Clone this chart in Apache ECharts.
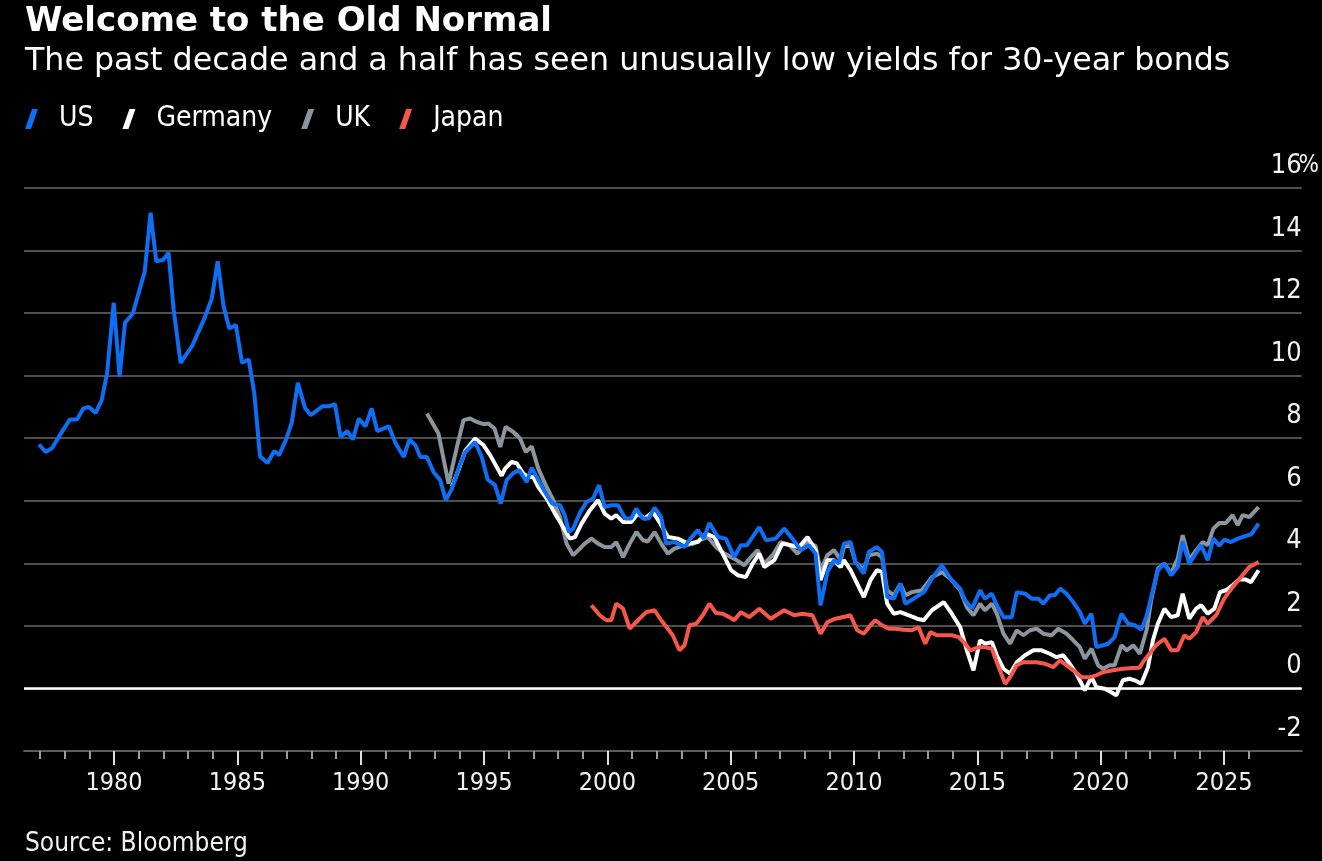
<!DOCTYPE html>
<html>
<head>
<meta charset="utf-8">
<title>Welcome to the Old Normal</title>
<script src="https://cdn.jsdelivr.net/npm/echarts@6/dist/echarts.min.js"></script>
<style>
  html, body { margin: 0; padding: 0; background: #000; }
  #chart { width: 1322px; height: 861px; }
</style>
</head>
<body>
<div id="chart"></div>
<script>
// 30-year government bond yields, %
const us = [
  [1976.96, 7.80], [1977.24, 7.56], [1977.50, 7.69], [1977.81, 8.10], [1978.22, 8.60], [1978.51, 8.60],
  [1978.76, 8.95], [1978.99, 9.00], [1979.27, 8.81], [1979.51, 9.22], [1979.73, 10.07], [1980.00, 12.33],
  [1980.24, 9.96], [1980.46, 11.69], [1980.78, 11.99], [1980.99, 12.58], [1981.26, 13.32], [1981.50, 15.21],
  [1981.73, 13.66], [1982.00, 13.70], [1982.23, 13.93], [1982.44, 12.10], [1982.72, 10.41], [1983.21, 10.98],
  [1983.69, 11.83], [1983.99, 12.47], [1984.23, 13.66], [1984.47, 12.22], [1984.70, 11.51], [1984.97, 11.62],
  [1985.22, 10.41], [1985.49, 10.52], [1985.72, 9.43], [1985.95, 7.42], [1986.26, 7.21], [1986.53, 7.59],
  [1986.73, 7.46], [1987.00, 7.94], [1987.24, 8.49], [1987.49, 9.77], [1987.78, 8.97], [1988.01, 8.74],
  [1988.49, 9.02], [1988.76, 9.02], [1989.00, 9.09], [1989.23, 8.04], [1989.50, 8.23], [1989.73, 7.96],
  [1989.97, 8.63], [1990.24, 8.38], [1990.49, 8.95], [1990.72, 8.23], [1991.19, 8.38], [1991.46, 7.85],
  [1991.80, 7.40], [1992.03, 7.96], [1992.27, 7.78], [1992.47, 7.40], [1992.74, 7.40], [1993.01, 6.92],
  [1993.28, 6.66], [1993.51, 6.02], [1993.76, 6.39], [1994.03, 7.03], [1994.30, 7.56], [1994.70, 7.88],
  [1994.97, 7.40], [1995.21, 6.68], [1995.51, 6.50], [1995.74, 5.91], [1995.98, 6.66], [1996.26, 6.89],
  [1996.49, 6.98], [1996.80, 6.60], [1997.00, 7.06], [1997.24, 6.71], [1997.54, 6.28], [1997.84, 5.91],
  [1998.15, 5.86], [1998.35, 5.54], [1998.51, 5.00], [1998.69, 5.11], [1998.96, 5.61], [1999.23, 5.96],
  [1999.50, 6.07], [1999.74, 6.50], [1999.97, 5.80], [2000.24, 5.86], [2000.51, 5.86], [2000.81, 5.43],
  [2001.05, 5.43], [2001.25, 5.75], [2001.53, 5.43], [2001.76, 5.43], [2002.00, 5.78], [2002.27, 5.48],
  [2002.47, 4.63], [2002.81, 4.68], [2003.22, 4.52], [2003.46, 4.79], [2003.76, 5.06], [2004.00, 4.79],
  [2004.23, 5.29], [2004.57, 4.84], [2004.90, 4.79], [2005.24, 4.20], [2005.51, 4.58], [2005.76, 4.58],
  [2006.26, 5.16], [2006.53, 4.74], [2006.93, 4.79], [2007.27, 5.11], [2007.61, 4.79], [2007.94, 4.42],
  [2008.28, 4.58], [2008.55, 4.31], [2008.75, 2.66], [2009.03, 3.72], [2009.30, 4.10], [2009.50, 3.99],
  [2009.70, 4.63], [2009.97, 4.68], [2010.17, 4.04], [2010.51, 3.67], [2010.71, 4.36], [2011.05, 4.52],
  [2011.25, 4.36], [2011.46, 2.92], [2011.73, 2.87], [2012.00, 3.35], [2012.20, 2.71], [2012.54, 2.87],
  [2012.95, 3.08], [2013.28, 3.51], [2013.69, 3.94], [2014.03, 3.51], [2014.43, 3.19], [2014.63, 2.82],
  [2014.91, 2.55], [2015.24, 3.14], [2015.44, 2.87], [2015.72, 3.03], [2015.92, 2.66], [2016.19, 2.28],
  [2016.53, 2.28], [2016.73, 3.08], [2017.07, 3.03], [2017.34, 2.87], [2017.61, 2.87], [2017.81, 2.71],
  [2018.08, 2.98], [2018.28, 2.98], [2018.49, 3.19], [2018.76, 3.03], [2019.03, 2.76], [2019.30, 2.44],
  [2019.50, 2.07], [2019.77, 2.39], [2019.97, 1.32], [2020.24, 1.38], [2020.45, 1.43], [2020.71, 1.64],
  [2020.99, 2.39], [2021.26, 2.07], [2021.53, 2.02], [2021.80, 1.88], [2022.00, 2.28], [2022.20, 2.92],
  [2022.47, 3.78], [2022.74, 3.99], [2023.01, 3.62], [2023.28, 3.88], [2023.48, 4.70], [2023.75, 3.99],
  [2024.03, 4.34], [2024.23, 4.58], [2024.50, 4.10], [2024.73, 4.79], [2024.97, 4.56], [2025.18, 4.76],
  [2025.45, 4.68], [2025.73, 4.79], [2026.00, 4.86], [2026.27, 4.93], [2026.57, 5.27]
];

const germany = [
  [1993.76, 6.45], [1994.03, 7.00], [1994.30, 7.60], [1994.70, 7.99], [1995.04, 7.78], [1995.31, 7.46],
  [1995.65, 6.98], [1995.78, 6.80], [1995.92, 7.03], [1996.18, 7.24], [1996.39, 7.20], [1996.66, 6.87],
  [1996.86, 6.76], [1997.07, 6.76], [1997.27, 6.44], [1997.61, 6.07], [1997.95, 5.59], [1998.28, 5.16],
  [1998.55, 4.79], [1998.76, 4.84], [1999.03, 5.27], [1999.37, 5.70], [1999.70, 6.02], [1999.97, 5.59],
  [2000.24, 5.43], [2000.44, 5.54], [2000.72, 5.32], [2001.05, 5.32], [2001.32, 5.59], [2001.60, 5.43],
  [2001.93, 5.64], [2002.20, 5.32], [2002.54, 4.84], [2002.95, 4.79], [2003.35, 4.63], [2003.76, 4.68],
  [2004.09, 4.95], [2004.43, 4.84], [2004.70, 4.42], [2005.11, 3.78], [2005.38, 3.62], [2005.71, 3.56],
  [2005.99, 3.99], [2006.26, 4.31], [2006.46, 3.88], [2006.87, 4.10], [2007.20, 4.63], [2007.54, 4.58],
  [2007.88, 4.52], [2008.22, 4.84], [2008.55, 4.42], [2008.75, 3.46], [2009.03, 4.10], [2009.30, 4.10],
  [2009.57, 3.88], [2009.70, 4.10], [2009.97, 3.78], [2010.24, 3.35], [2010.51, 2.92], [2010.78, 3.46],
  [2011.05, 3.78], [2011.25, 3.72], [2011.46, 2.71], [2011.73, 2.39], [2012.00, 2.44], [2012.34, 2.34],
  [2012.68, 2.23], [2012.95, 2.18], [2013.28, 2.50], [2013.76, 2.76], [2014.09, 2.39], [2014.43, 1.96],
  [2014.70, 1.22], [2014.97, 0.58], [2015.24, 1.54], [2015.44, 1.43], [2015.72, 1.48], [2015.92, 1.06],
  [2016.19, 0.63], [2016.46, 0.47], [2016.73, 0.84], [2017.07, 1.06], [2017.41, 1.22], [2017.74, 1.22],
  [2018.08, 1.11], [2018.35, 1.00], [2018.62, 1.06], [2018.89, 0.79], [2019.16, 0.47], [2019.50, -0.06],
  [2019.77, 0.36], [2019.97, 0.04], [2020.31, -0.01], [2020.58, -0.12], [2020.78, -0.22], [2021.05, 0.26],
  [2021.32, 0.31], [2021.53, 0.26], [2021.80, 0.15], [2022.07, 0.68], [2022.27, 1.54], [2022.47, 2.07],
  [2022.74, 2.55], [2023.01, 2.28], [2023.28, 2.34], [2023.48, 3.03], [2023.75, 2.23], [2024.03, 2.55],
  [2024.23, 2.66], [2024.50, 2.39], [2024.77, 2.55], [2025.00, 3.08], [2025.24, 3.14], [2025.51, 3.30],
  [2025.78, 3.48], [2026.05, 3.48], [2026.26, 3.40], [2026.57, 3.78]
];

const uk = [
  [1992.74, 8.79], [1993.21, 8.15], [1993.62, 6.55], [1993.96, 7.72], [1994.23, 8.58], [1994.50, 8.63],
  [1994.77, 8.52], [1995.04, 8.45], [1995.24, 8.47], [1995.49, 8.31], [1995.72, 7.72], [1995.94, 8.36],
  [1996.26, 8.20], [1996.53, 7.99], [1996.76, 7.56], [1997.00, 7.74], [1997.27, 7.03], [1997.61, 6.44],
  [1997.88, 6.02], [1998.15, 5.48], [1998.42, 4.63], [1998.69, 4.26], [1998.96, 4.47], [1999.16, 4.63],
  [1999.43, 4.79], [1999.70, 4.63], [1999.97, 4.52], [2000.24, 4.52], [2000.44, 4.68], [2000.72, 4.20],
  [2000.99, 4.63], [2001.26, 5.00], [2001.53, 4.74], [2001.73, 4.70], [2002.00, 5.00], [2002.27, 4.63],
  [2002.54, 4.31], [2002.81, 4.47], [2003.22, 4.58], [2003.55, 4.62], [2003.82, 4.74], [2004.16, 4.84],
  [2004.50, 4.52], [2004.84, 4.31], [2005.24, 4.15], [2005.65, 3.94], [2005.92, 4.20], [2006.19, 4.42],
  [2006.46, 3.99], [2006.80, 4.26], [2007.13, 4.68], [2007.47, 4.60], [2007.81, 4.31], [2008.22, 4.68],
  [2008.55, 4.55], [2008.75, 3.78], [2009.03, 4.26], [2009.30, 4.42], [2009.57, 4.10], [2009.70, 4.52],
  [2009.97, 4.58], [2010.17, 4.04], [2010.51, 3.78], [2010.71, 4.26], [2011.05, 4.31], [2011.25, 4.20],
  [2011.46, 3.14], [2011.73, 2.98], [2012.00, 3.35], [2012.20, 2.98], [2012.47, 3.08], [2012.88, 3.14],
  [2013.28, 3.56], [2013.69, 3.72], [2014.03, 3.51], [2014.43, 3.14], [2014.70, 2.60], [2014.97, 2.34],
  [2015.24, 2.71], [2015.44, 2.50], [2015.72, 2.71], [2015.92, 2.39], [2016.19, 1.75], [2016.46, 1.43],
  [2016.73, 1.86], [2017.00, 1.70], [2017.27, 1.86], [2017.54, 1.91], [2017.81, 1.75], [2018.15, 1.70],
  [2018.42, 1.91], [2018.76, 1.75], [2019.03, 1.54], [2019.30, 1.32], [2019.50, 0.95], [2019.77, 1.27],
  [2020.04, 0.74], [2020.24, 0.63], [2020.51, 0.74], [2020.71, 0.74], [2020.99, 1.38], [2021.20, 1.22],
  [2021.47, 1.38], [2021.74, 1.11], [2022.01, 1.86], [2022.20, 2.82], [2022.47, 3.83], [2022.74, 3.99],
  [2023.01, 3.67], [2023.28, 4.15], [2023.48, 4.90], [2023.75, 4.10], [2024.03, 4.42], [2024.30, 4.68],
  [2024.50, 4.58], [2024.73, 5.11], [2024.97, 5.29], [2025.24, 5.29], [2025.51, 5.54], [2025.72, 5.22],
  [2025.92, 5.54], [2026.19, 5.48], [2026.57, 5.80]
];

const japan = [
  [1999.43, 2.66], [1999.77, 2.34], [2000.04, 2.18], [2000.24, 2.18], [2000.44, 2.71], [2000.72, 2.55],
  [2000.99, 1.91], [2001.32, 2.18], [2001.66, 2.44], [2002.00, 2.50], [2002.27, 2.18], [2002.54, 1.91],
  [2002.74, 1.70], [2003.01, 1.22], [2003.22, 1.38], [2003.42, 2.02], [2003.69, 2.07], [2003.96, 2.34],
  [2004.23, 2.71], [2004.50, 2.41], [2004.77, 2.39], [2005.04, 2.28], [2005.24, 2.18], [2005.51, 2.44],
  [2005.85, 2.28], [2006.26, 2.55], [2006.73, 2.23], [2007.27, 2.50], [2007.68, 2.34], [2008.01, 2.39],
  [2008.42, 2.34], [2008.75, 1.75], [2009.03, 2.12], [2009.36, 2.23], [2009.77, 2.30], [2009.97, 2.34],
  [2010.24, 1.86], [2010.51, 1.75], [2010.78, 2.02], [2010.98, 2.18], [2011.25, 2.02], [2011.52, 1.91],
  [2011.79, 1.91], [2012.14, 1.88], [2012.47, 1.86], [2012.74, 1.96], [2013.01, 1.43], [2013.22, 1.80],
  [2013.49, 1.70], [2013.77, 1.70], [2014.09, 1.70], [2014.37, 1.64], [2014.63, 1.43], [2014.84, 1.22],
  [2015.18, 1.32], [2015.44, 1.32], [2015.72, 1.27], [2015.92, 0.84], [2016.26, 0.15], [2016.46, 0.36],
  [2016.73, 0.74], [2017.00, 0.84], [2017.54, 0.84], [2017.88, 0.79], [2018.22, 0.68], [2018.49, 0.90],
  [2018.76, 0.74], [2019.03, 0.58], [2019.37, 0.36], [2019.70, 0.36], [2019.97, 0.42], [2020.24, 0.52],
  [2020.65, 0.58], [2021.05, 0.63], [2021.46, 0.65], [2021.73, 0.66], [2021.86, 0.84], [2022.13, 1.11],
  [2022.40, 1.38], [2022.74, 1.59], [2023.01, 1.22], [2023.28, 1.22], [2023.55, 1.70], [2023.75, 1.59],
  [2024.03, 1.80], [2024.30, 2.28], [2024.50, 2.07], [2024.84, 2.34], [2025.17, 2.87], [2025.51, 3.24],
  [2025.85, 3.56], [2026.19, 3.88], [2026.57, 4.04]
];

const seriesNames = ['US', 'Germany', 'UK', 'Japan'];
const seriesColors = { US: '#0f6ff4', Germany: '#ffffff', UK: '#8c959d', Japan: '#f7574a' };
const yTicks = [-2, 0, 2, 4, 6, 8, 10, 12, 14, 16];
const xLabelYears = [1980, 1985, 1990, 1995, 2000, 2005, 2010, 2015, 2020, 2025];

const FONT = '"DejaVu Sans Condensed", "Liberation Sans Narrow", "DejaVu Sans", sans-serif';
const HEAD_FONT = '"DejaVu Sans", sans-serif';
const TEXT = '#f2f2f2';
const GRID = '#4f4f4f';

// pixel frame of the plot: x 24..1306, y 188 (16%)..751 (-2%)
const gridTop = 188, gridBottom = 110;
const pxPerYear = 24.667, x1980 = 114;
const xAt = yr => x1980 + (yr - 1980) * pxPerYear;

const slash = 'path://M0,20 L7,0 L13,0 L6,20 Z';

function line (name, data, extra) {
  return Object.assign({
    name,
    type: 'line',
    xAxisIndex: 0,
    yAxisIndex: 0,
    data,
    showSymbol: false,
    symbol: 'none',
    lineStyle: { width: 4, color: seriesColors[name] },
    itemStyle: { color: seriesColors[name] },
    emphasis: { disabled: true }
  }, extra || {})
}

const chart = echarts.init(document.getElementById('chart'), null, { renderer: 'canvas' });

chart.setOption({
  backgroundColor: '#000',
  animation: false,
  textStyle: { fontFamily: FONT },
  title: [
    { text: 'Welcome to the Old Normal', left: 25, top: 5, padding: 0,
      textStyle: { color: '#fff', fontSize: 34, fontWeight: 'bold', fontFamily: HEAD_FONT } },
    { text: 'The past decade and a half has seen unusually low yields for 30-year bonds', left: 25, top: 46, padding: 0,
      textStyle: { color: '#fff', fontSize: 31.7, fontWeight: 'normal', fontFamily: HEAD_FONT } },
    { text: 'Source: Bloomberg', left: 25, top: 831, padding: 0,
      textStyle: { color: TEXT, fontSize: 26, fontWeight: 'normal', fontFamily: FONT } }
  ],
  legend: {
    data: seriesNames.map(n => ({ name: n, icon: slash, itemStyle: { color: seriesColors[n] } })),
    left: 25,
    top: 105,
    padding: 0,
    itemWidth: 13,
    itemHeight: 22,
    itemGap: 29,
    selectedMode: false,
    textStyle: { color: '#fff', fontSize: 28, fontFamily: FONT, padding: [0, 0, 0, 16] }
  },
  grid: [
    { left: 24, right: 1322 - 1306, top: gridTop, bottom: gridBottom },
    // minor yearly ticks 1977..2026
    { left: xAt(1977), right: 1322 - xAt(2026), top: gridTop, bottom: gridBottom },
    // major 5-year ticks and labels
    { left: xAt(1980), right: 1322 - xAt(2025), top: gridTop, bottom: gridBottom }
  ],
  xAxis: [
    {
      type: 'value', gridIndex: 0,
      min: 1980 - (x1980 - 24) / pxPerYear, max: 1980 + (1306 - x1980) / pxPerYear,
      axisLine: { show: true, onZero: false, lineStyle: { color: '#5c5c5c', width: 2 } },
      axisTick: { show: false }, axisLabel: { show: false }, splitLine: { show: false }
    },
    {
      type: 'value', gridIndex: 1, min: 1977, max: 2026, interval: 1,
      axisLine: { show: false, onZero: false },
      axisTick: { show: true, length: 8, lineStyle: { color: '#9a9a9a', width: 2 } },
      axisLabel: { show: false }, splitLine: { show: false }
    },
    {
      type: 'value', gridIndex: 2, min: xLabelYears[0], max: xLabelYears[xLabelYears.length - 1], interval: 5,
      axisLine: { show: false, onZero: false },
      axisTick: { show: true, length: 14, lineStyle: { color: '#e0e0e0', width: 2 } },
      axisLabel: {
        show: true, color: TEXT, fontSize: 25, fontFamily: FONT, margin: 20,
        showMinLabel: true, showMaxLabel: true,
        formatter: v => (xLabelYears.indexOf(v) >= 0 ? String(v) : '')
      },
      splitLine: { show: false }
    }
  ],
  yAxis: [
    {
      type: 'value', gridIndex: 0, position: 'right',
      min: yTicks[0], max: yTicks[yTicks.length - 1], interval: 2,
      axisLine: { show: false }, axisTick: { show: false },
      splitLine: { show: true, lineStyle: { color: GRID, width: 2 } },
      axisLabel: {
        inside: true, margin: -14, color: TEXT, fontSize: 27, fontFamily: FONT,
        verticalAlign: 'middle', padding: [0, 0, 44, 0],
        formatter: v => (v === 16 ? '{n|16}{p|%}' : '{n|' + v + '}{h|%}'),
        rich: {
          n: { color: TEXT, fontSize: 27, fontFamily: FONT },
          p: { color: TEXT, fontSize: 24, fontFamily: FONT, width: 14, align: 'left' },
          h: { color: 'rgba(0,0,0,0)', fontSize: 24, fontFamily: FONT, width: 14, align: 'left' }
        }
      }
    },
    { type: 'value', gridIndex: 1, show: false, min: -2, max: 16 },
    { type: 'value', gridIndex: 2, show: false, min: -2, max: 16 }
  ],
  series: [
    line('UK', uk, {
      markLine: {
        silent: true, symbol: 'none', label: { show: false },
        lineStyle: { color: '#ffffff', width: 2.5, type: 'solid' },
        data: [{ yAxis: 0 }]
      }
    }),
    line('Germany', germany),
    line('Japan', japan),
    line('US', us)
  ]
});
</script>
</body>
</html>
